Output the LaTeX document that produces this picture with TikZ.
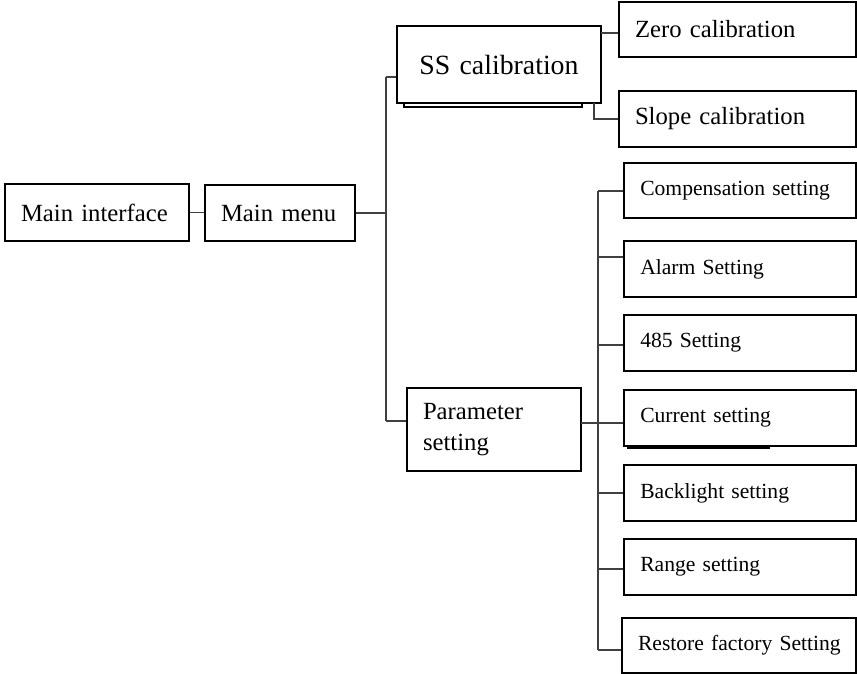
\documentclass[tikz,border=0pt]{standalone}
\usepackage{fontspec}
\setmainfont{Liberation Serif}
\usetikzlibrary{calc, positioning}

\begin{document}
\begin{tikzpicture}[x=0.5pt, y=-0.5pt,
    menubox/.style={draw, line width=1pt, inner xsep=8pt, inner ysep=0pt,
        text width=#1, align=left, minimum height=28pt,
        font=\fontsize{12.35}{15.5}\selectfont},
    subbox/.style={menubox=#1, font=\fontsize{10.8}{13}\selectfont},
    link/.style={draw=black!75, line width=0.8pt}]

    % Frame
    \useasboundingbox (0,0) rectangle (857,674);

    % Main part
    \node[menubox=76pt, minimum height=28.5pt] (mainif) at (97,212.5) {Main interface};
    \node[menubox=59pt] (mainmenu) at (280,213) {Main menu};

    % Calibration branch
    \node[menubox=86pt, align=center, minimum height=38.5pt,
        font=\fontsize{13.9}{16}\selectfont] (sscal) at (499,64.5) {SS calibration};
    \draw[line width=0.6pt] (404,103) -- (404,107) -- (582,107) -- (582,103);
    \node[menubox=102.5pt, minimum height=27.5pt] (zero) at (737.5,29.5) {Zero calibration};
    \node[menubox=102.5pt] (slope) at (737.5,119) {Slope calibration};

    % Parameter branch
    \node[menubox=71pt, minimum height=41.5pt] (param) at (494,429.5) {Parameter\\setting};
    \node[subbox=99.75pt, minimum height=27.5pt] (comp) at (740,190.5) {Compensation setting};
    \node[subbox=99.75pt] (alarm) at (740,269) {Alarm Setting};
    \node[subbox=99.75pt] (rs485) at (740,343) {485 Setting};
    \node[subbox=99.75pt] (current) at (740,418) {Current setting};
    \draw[line width=1.2pt] (627,447.5) -- (770,447.5);
    \node[subbox=99.75pt] (backlight) at (740,493) {Backlight setting};
    \node[subbox=99.75pt] (range) at (740,567) {Range setting};
    \node[subbox=101pt, minimum height=27.5pt] (restore) at (739,645.5) {\mbox{Restore factory Setting}};

    % Connectors
    \coordinate (ttop) at (386,77);
    \coordinate (tbot) at (386,421);
    \draw[link] (mainif.east) -- (mainif.east -| mainmenu.west);
    \draw[link] (mainmenu.east) -- (mainmenu.east -| ttop);
    \draw[link] (ttop) -- (tbot);
    \draw[link] (ttop) -- (ttop -| sscal.west);
    \draw[link] (tbot) -- (tbot -| param.west);

    \coordinate (zj) at (601,33);
    \coordinate (sj) at (594,103);
    \draw[link] (zj) -- (zj -| zero.west);
    \draw[link] (sj) |- (slope.west);

    \coordinate (ptop) at (598,191);
    \coordinate (pbot) at (598,650);
    \coordinate (pj) at (581,423);
    \draw[link] (ptop) -- (pbot);
    \draw[link] (pj) -- (pj -| current.west);
    \foreach \name/\y in {comp/191, alarm/257, rs485/345, backlight/493, range/569, restore/650}
        \draw[link] (598,\y) -- (\name.west |- 598,\y);
\end{tikzpicture}
\end{document}
